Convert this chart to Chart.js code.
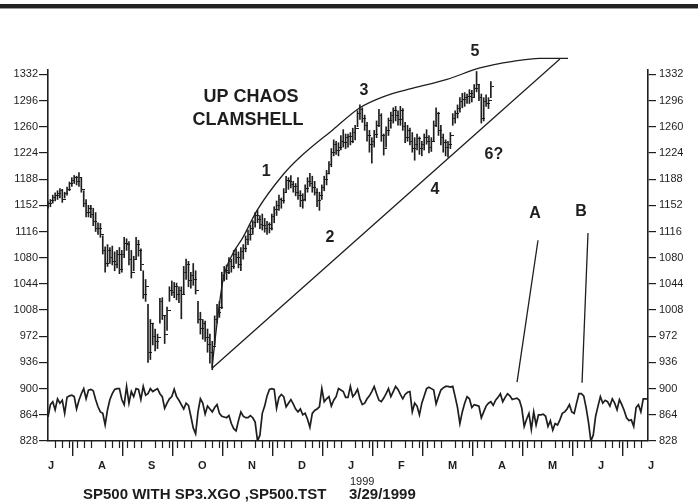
<!DOCTYPE html>
<html>
<head>
  <title>SP500 Up Chaos Clamshell</title>
  <script src="https://cdn.jsdelivr.net/npm/chart.js"></script>
  <style>
    body { margin: 0; background: #fff; font-family: "Liberation Sans", Arial, sans-serif; color: #1c1c1c; }
    #wrap { position: relative; width: 698px; height: 504px; overflow: hidden; }
    #band { position: absolute; left: 0; top: 4px; width: 698px; height: 4px; background: #232323; border-bottom: 1px solid #9a9a9a; }
    #year { position: absolute; left: 350px; top: 476px; font-size: 11px; line-height: 11px; }
    .foot { position: absolute; top: 486px; font-size: 15px; line-height: 15px; font-weight: bold; white-space: pre; }
    canvas { position: absolute; left: 0; top: 0; }
  </style>
</head>
<body>
<div id="wrap">
  <canvas id="chart" width="698" height="504"></canvas>
  <div id="band"></div>
  <div id="year">1999</div>
  <div class="foot" style="left:83px">SP500 WITH SP3.XGO ,SP500.TST</div>
  <div class="foot" style="left:349px">3/29/1999</div>
</div>

<script>
  // one slot per trading day, 21 slots per month, Jul 1998 .. Jul 1999
  const monthLabels = ["J", "A", "S", "O", "N", "D", "J", "F", "M", "A", "M", "J", "J"];
  const daysPerMonth = 21;
  const minorStep = 3;
  const yTicks = [828, 864, 900, 936, 972, 1008, 1044, 1080, 1116, 1152, 1188, 1224, 1260, 1296, 1332];

  // daily price bars (high / low / close), Jul 1998 .. 29 Mar 1999
  const high = [
    1157, 1160, 1166, 1169, 1172, 1175, 1174, 1170, 1177, 1184, 1190, 1193, 1192, 1197, 1190, 1172, 1160, 1152, 1152, 1148, 1142,
    1128, 1127, 1110, 1095, 1098, 1094, 1096, 1088, 1090, 1094, 1090, 1108, 1106, 1102, 1090, 1082, 1108, 1104, 1092, 1062, 1050,
    1016, 995, 990, 982, 975, 1024, 1025, 1000, 1012, 1040, 1048, 1046, 1045, 1040, 1040, 1068, 1078, 1075, 1060, 1072, 1062,
    1020, 1005, 995, 993, 982, 975, 965, 1000, 1016, 1020, 1060, 1068, 1070, 1080, 1078, 1090, 1092, 1088, 1094, 1098, 1110,
    1118, 1125, 1131, 1142, 1145, 1138, 1140, 1134, 1130, 1128, 1140, 1150, 1158, 1166, 1162, 1175, 1192, 1190, 1193, 1185, 1182,
    1190, 1172, 1168, 1180, 1190, 1196, 1192, 1185, 1175, 1170, 1180, 1192, 1200, 1212, 1230, 1242, 1240, 1238, 1248, 1256, 1250,
    1250, 1252, 1258, 1262, 1282, 1290, 1286, 1276, 1266, 1255, 1245, 1255, 1268, 1284, 1278, 1250, 1260, 1272, 1280, 1286, 1288,
    1282, 1288, 1285, 1266, 1262, 1258, 1252, 1245, 1250, 1246, 1240, 1250, 1256, 1248, 1245, 1268, 1286, 1280, 1262, 1250, 1242,
    1240, 1252, 1278, 1282, 1290, 1300, 1306, 1307, 1305, 1311, 1310, 1318, 1336, 1318, 1305, 1300, 1304, 1300, 1322
  ];
  const low = [
    1148, 1150, 1155, 1158, 1160, 1162, 1156, 1162, 1166, 1172, 1178, 1182, 1180, 1178, 1170, 1150, 1136, 1136, 1135, 1124, 1116,
    1112, 1108, 1085, 1060, 1068, 1072, 1070, 1062, 1066, 1058, 1060, 1080, 1090, 1070, 1052, 1062, 1078, 1082, 1062, 1024, 1020,
    936, 940, 960, 952, 955, 990, 995, 962, 980, 1020, 1028, 1025, 1022, 1018, 996, 1030, 1050, 1040, 1038, 1042, 1030,
    990, 975, 968, 965, 950, 935, 926, 960, 990, 998, 1010, 1048, 1050, 1058, 1060, 1065, 1072, 1066, 1062, 1078, 1088,
    1098, 1104, 1112, 1122, 1128, 1120, 1118, 1115, 1112, 1114, 1118, 1128, 1138, 1145, 1148, 1155, 1170, 1174, 1176, 1170, 1165,
    1160, 1150, 1148, 1158, 1170, 1178, 1170, 1166, 1150, 1145, 1160, 1172, 1180, 1195, 1205, 1220, 1222, 1220, 1228, 1232, 1230,
    1232, 1235, 1238, 1242, 1260, 1270, 1266, 1255, 1240, 1225, 1210, 1232, 1245, 1260, 1240, 1221, 1232, 1248, 1258, 1265, 1268,
    1262, 1262, 1255, 1238, 1240, 1235, 1225, 1214, 1228, 1222, 1220, 1228, 1236, 1224, 1226, 1240, 1260, 1248, 1235, 1225, 1220,
    1218, 1230, 1262, 1265, 1272, 1280, 1286, 1288, 1292, 1292, 1294, 1300, 1308, 1296, 1265, 1268, 1288, 1285, 1300
  ];
  const close = [
    1154, 1158, 1163, 1165, 1168, 1172, 1160, 1168, 1174, 1182, 1186, 1190, 1185, 1190, 1174, 1154, 1142, 1148, 1140, 1130, 1120,
    1120, 1112, 1090, 1072, 1090, 1080, 1075, 1070, 1084, 1064, 1085, 1100, 1098, 1078, 1060, 1078, 1098, 1090, 1070, 1030, 1040,
    950, 990, 972, 965, 970, 1020, 1000, 975, 1008, 1035, 1032, 1040, 1030, 1035, 1030, 1060, 1070, 1048, 1055, 1050, 1035,
    995, 982, 990, 970, 960, 950, 958, 995, 1005, 1012, 1055, 1062, 1060, 1075, 1068, 1085, 1080, 1070, 1088, 1092, 1105,
    1112, 1120, 1128, 1138, 1132, 1126, 1124, 1120, 1125, 1120, 1136, 1146, 1152, 1160, 1158, 1170, 1186, 1185, 1180, 1178, 1170,
    1165, 1158, 1160, 1175, 1185, 1182, 1176, 1170, 1158, 1165, 1176, 1188, 1196, 1208, 1225, 1235, 1228, 1232, 1240, 1238, 1245,
    1246, 1240, 1252, 1258, 1278, 1284, 1272, 1262, 1248, 1235, 1240, 1250, 1262, 1276, 1248, 1230, 1255, 1268, 1275, 1282, 1276,
    1270, 1282, 1260, 1245, 1255, 1240, 1230, 1235, 1244, 1230, 1236, 1245, 1240, 1232, 1240, 1262, 1278, 1255, 1245, 1238, 1232,
    1235, 1248, 1272, 1278, 1285, 1295, 1298, 1300, 1302, 1306, 1300, 1312, 1318, 1300, 1272, 1295, 1292, 1296, 1316
  ];

  // oscillator plotted on the price scale, Jul 1998 .. Jul 1999
  const osc = [
    861, 878, 882, 871, 886, 880, 884, 866, 888, 890, 891, 889, 872, 884, 893, 900, 886, 898, 899, 897, 885,
    875, 868, 866, 850, 871, 885, 893, 899, 900, 900, 885, 878, 903, 880, 896, 889, 900, 899, 885, 903, 891,
    893, 900, 896, 898, 900, 893, 889, 873, 880, 886, 889, 899, 889, 884, 878, 872, 880, 877, 862, 846, 838,
    868, 886, 880, 865, 876, 872, 868, 874, 878, 866, 862, 861, 860, 863, 852, 845, 842, 856, 868, 862, 860,
    860, 863, 860, 854, 828, 836, 866, 876, 890, 899, 900, 899, 873, 888, 892, 889, 875, 880, 885, 879, 872,
    868, 872, 864, 866, 858, 847, 866, 870, 872, 875, 900, 882, 886, 889, 876, 884, 889, 900, 898, 896, 888,
    888, 903, 889, 893, 899, 886, 878, 880, 886, 890, 896, 903, 893, 884, 882, 887, 893, 900, 889, 896, 903,
    899, 892, 886, 892, 895, 896, 868, 880, 876, 864, 880, 890, 900, 902, 900, 898, 879, 889, 898, 901, 903,
    903, 902, 903, 889, 874, 852, 868, 880, 889, 886, 874, 878, 877, 876, 860, 868, 876, 880, 882, 877, 884,
    888, 893, 882, 888, 893, 890, 885, 886, 887, 884, 873, 848, 858, 866, 844, 868, 850, 864, 864, 865, 862,
    848, 856, 843, 852, 850, 857, 866, 868, 872, 878, 868, 866, 880, 893, 893, 890, 874, 854, 828, 836, 862,
    876, 889, 880, 884, 882, 876, 886, 880, 871, 885, 878, 870, 860, 856, 857, 848, 874, 878, 868, 886, 886,
    886
  ];

  // hand-drawn clamshell arc and the lines
  const curveSlots  = [68.9, 71.0, 73.5, 77.7, 81.9, 87.8, 98.7, 105.8, 119.7, 131.0, 140.7, 153.3, 167.6, 181.4, 195.3, 206.6, 218.4];
  const curveValues = [929, 990, 1049, 1086, 1108, 1145, 1194, 1218, 1256, 1286, 1301, 1313, 1325, 1341, 1350, 1354, 1354];
  const trendSlots  = [68.9, 215.0];
  const trendValues = [928, 1353];
  const lineASlots  = [197.0, 205.8];
  const lineAValues = [909, 1104];
  const lineBSlots  = [224.3, 226.8];
  const lineBValues = [908, 1114];

  const noteText  = ["1", "2", "3", "4", "5", "6?", "A", "B"];
  const noteSlot  = [91.6, 118.4, 132.7, 162.5, 179.3, 187.3, 204.5, 223.9];
  const noteValue = [1198, 1107, 1310, 1174, 1363, 1222, 1141, 1143];
  const titleText  = ["UP CHAOS", "CLAMSHELL"];
  const titleSlot  = [85.3, 84.0];
  const titleValue = [1301, 1269];

  const ink = "#1e1e1e";
  const fontFamily = "'Liberation Sans', Arial, sans-serif";
  const pts = (xs, ys) => xs.map((v, i) => ({ x: v, y: ys[i] }));

  // close tick drawn to the right of each bar
  const closeTick = document.createElement("canvas");
  closeTick.width = 7;
  closeTick.height = 1;
  const tctx = closeTick.getContext("2d");
  tctx.fillStyle = ink;
  tctx.fillRect(4, 0, 3, 1);

  const extras = {
    id: "extras",
    afterDraw(chart) {
      const { ctx, scales: { x, y } } = chart;
      ctx.save();
      ctx.strokeStyle = ink;
      ctx.lineWidth = 1.2;
      for (let v = 0; v <= x.max; v += minorStep) {
        if (v % daysPerMonth === 0) continue;
        const px = Math.round(x.getPixelForValue(v)) + 0.5;
        ctx.beginPath();
        ctx.moveTo(px, y.bottom);
        ctx.lineTo(px, y.bottom + 7);
        ctx.stroke();
      }
      ctx.fillStyle = ink;
      ctx.textAlign = "center";
      ctx.textBaseline = "middle";
      ctx.font = "bold 16px " + fontFamily;
      noteText.forEach((t, i) => ctx.fillText(t, x.getPixelForValue(noteSlot[i]), y.getPixelForValue(noteValue[i])));
      ctx.font = "bold 18px " + fontFamily;
      titleText.forEach((t, i) => ctx.fillText(t, x.getPixelForValue(titleSlot[i]), y.getPixelForValue(titleValue[i])));
      ctx.restore();
    }
  };

  const thinLine = { type: "line", borderColor: ink, borderWidth: 1.3, pointRadius: 0, tension: 0, clip: false };

  const valueAxis = (position, width, tickLength, padding) => ({
    position,
    min: 828,
    max: 1338,
    afterBuildTicks: s => { s.ticks = yTicks.map(v => ({ value: v })); },
    afterFit: s => { s.width = width; },
    grid: { drawOnChartArea: false, tickLength, color: ink, lineWidth: 1.2 },
    border: { color: ink, width: 1.6 },
    ticks: { padding, color: ink, font: { family: fontFamily, size: 11 }, callback: v => String(v) }
  });

  new Chart(document.getElementById("chart"), {
    data: {
      datasets: [
        { type: "bar", data: high.map((h, i) => ({ x: i, y: [low[i], h] })), backgroundColor: ink, barThickness: 1, borderWidth: 0 },
        { type: "scatter", data: close.map((c, i) => ({ x: i, y: c })), pointStyle: closeTick, pointRadius: 3 },
        { type: "line", data: osc.map((v, i) => ({ x: i, y: v })), borderColor: ink, borderWidth: 1.7, pointRadius: 0, tension: 0 },
        { ...thinLine, data: pts(curveSlots, curveValues), cubicInterpolationMode: "monotone" },
        { ...thinLine, data: pts(trendSlots, trendValues) },
        { ...thinLine, data: pts(lineASlots, lineAValues) },
        { ...thinLine, data: pts(lineBSlots, lineBValues) }
      ]
    },
    options: {
      responsive: false,
      animation: false,
      layout: { padding: { top: 70 } },
      plugins: { legend: { display: false }, tooltip: { enabled: false } },
      scales: {
        x: {
          type: "linear",
          min: 0,
          max: 12 * daysPerMonth,
          offset: false,
          afterBuildTicks: s => { s.ticks = monthLabels.map((m, i) => ({ value: i * daysPerMonth })); },
          afterFit: s => { s.height = 63; },
          grid: { drawOnChartArea: false, tickLength: 15, color: ink, lineWidth: 1.4 },
          border: { color: ink, width: 1.6 },
          ticks: {
            autoSkip: false,
            maxRotation: 0,
            align: "start",
            padding: 3,
            color: ink,
            font: { family: fontFamily, size: 11, weight: "bold" },
            callback: v => monthLabels[Math.round(v / daysPerMonth)]
          }
        },
        y: valueAxis("left", 48, 9, 1),
        y2: valueAxis("right", 50, 8, 3)
      }
    },
    plugins: [extras]
  });
</script>
</body>
</html>
